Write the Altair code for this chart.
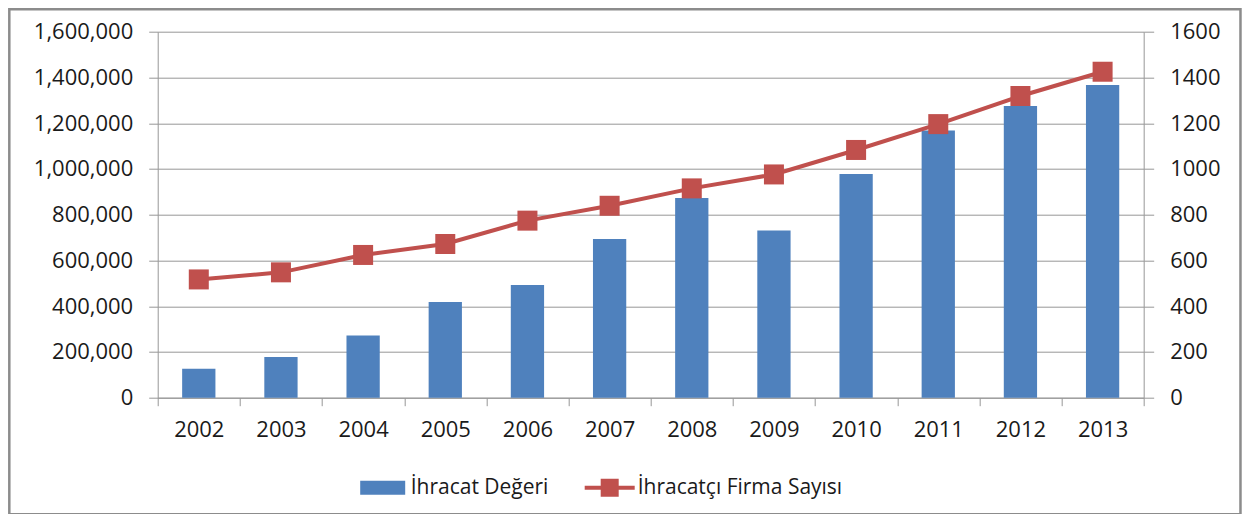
import altair as alt
import pandas as pd

# ---- data ----
years = ["2002", "2003", "2004", "2005", "2006", "2007",
         "2008", "2009", "2010", "2011", "2012", "2013"]
ihracat_degeri = [127000, 178000, 272000, 418000, 493000, 694000,
                  873000, 731000, 978000, 1168000, 1275000, 1367000]
firma_sayisi = [517, 548, 624, 672, 774, 839, 915, 976, 1083, 1196, 1319, 1425]
series_names = ["İhracat Değeri", "İhracatçı Firma Sayısı"]
left_ticks = [0, 200000, 400000, 600000, 800000, 1000000, 1200000, 1400000, 1600000]
right_ticks = [0, 200, 400, 600, 800, 1000, 1200, 1400, 1600]

df = pd.DataFrame({"Yıl": years, "ihracat": ihracat_degeri, "firma": firma_sayisi})
leg_df = pd.DataFrame({"seri": series_names})
frame_df = pd.DataFrame({"k": [0]})

FONT = "Open Sans"
TEXT = "#1a1a1a"
GRID = "#979797"
BLUE = "#4F81BD"
RED = "#C0504D"
FS = 22

x = alt.X(
    "Yıl:N", title=None, sort=years,
    scale=alt.Scale(paddingInner=0, paddingOuter=0),
    axis=alt.Axis(labelAngle=0, tickBand="extent", tickSize=8, labelPadding=14,
                  domainColor=GRID, tickColor=GRID, grid=False),
)

frame = alt.Chart(frame_df).mark_rect(
    fill="transparent", stroke="#8C8C8C", strokeWidth=2.5
).encode(
    x=alt.value(-148.4), x2=alt.value(1082.8), y=alt.value(-22.4), y2=alt.value(482.5)
)

bars = alt.Chart(df).mark_bar(color=BLUE, width={"band": 0.405}).encode(
    x=x,
    y=alt.Y("ihracat:Q", title=None,
            scale=alt.Scale(domain=[0, 1600000], nice=False),
            axis=alt.Axis(values=left_ticks, format=",.0f", grid=True, gridColor=GRID,
                          tickSize=9, labelPadding=16, domainColor=GRID, tickColor=GRID)),
)

line = alt.Chart(df).mark_line(
    color=RED, strokeWidth=4,
    point=alt.OverlayMarkDef(shape="square", size=400, filled=True, color=RED, opacity=1),
).encode(
    x=x,
    y=alt.Y("firma:Q", title=None,
            scale=alt.Scale(domain=[0, 1600], nice=False),
            axis=alt.Axis(orient="right", values=right_ticks, format="d", grid=False,
                          tickSize=10, labelPadding=16, domainColor=GRID, tickColor=GRID)),
)

bar_path = "M-0.9,-0.28H0.9V0.28H-0.9Z"
line_path = "M-1,-0.08H1V0.08H-1Z M-0.36,-0.36H0.36V0.36H-0.36Z"

legend = alt.Legend(
    title=None, orient="none", legendX=200, legendY=431, direction="horizontal",
    symbolSize=2500, symbolStrokeWidth=0, symbolOpacity=1, labelOffset=3,
    columnPadding=36, padding=0, labelFont=FONT, labelFontSize=21, labelColor=TEXT,
    labelLimit=400,
)

legend_layer = alt.Chart(leg_df).mark_point(filled=True, opacity=0).encode(
    color=alt.Color("seri:N", scale=alt.Scale(domain=series_names, range=[BLUE, RED]),
                    legend=legend),
    shape=alt.Shape("seri:N", scale=alt.Scale(domain=series_names, range=[bar_path, line_path]),
                    legend=legend),
)

chart = alt.layer(frame, bars, line, legend_layer).resolve_scale(
    y="independent"
).properties(
    width=986, height=366,
    autosize=alt.AutoSizeParams(type="none"),
    padding={"left": 149.7, "top": 23.7, "right": 100, "bottom": 116},
    background="white",
).configure_view(
    strokeWidth=0
).configure_axis(
    labelFont=FONT, labelFontSize=FS, labelColor=TEXT,
)

chart.save("out.html", embed_options={"renderer": "svg", "actions": False})
